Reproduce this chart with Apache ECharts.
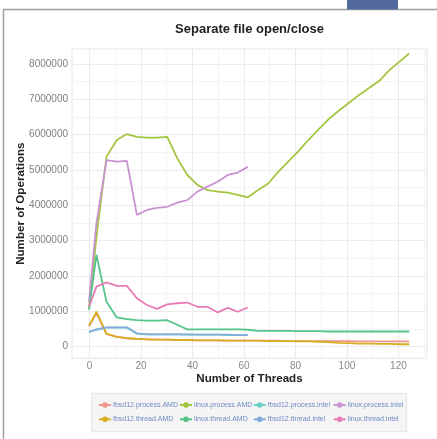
<!DOCTYPE html>
<html>
<head>
<meta charset="utf-8">
<script src="https://cdn.jsdelivr.net/npm/echarts@6/dist/echarts.min.js"></script>
<style>
  html, body { margin: 0; padding: 0; background: #fff; }
  #chart { width: 437px; height: 439px; }
</style>
</head>
<body>
<div id="chart"></div>
<script>
// Thread positions on the x scale for each platform
const threadsAMD = [-0.2, 2.7, 6.6, 10.6, 14.5, 18.4, 22.3, 26.2, 30.2, 34.1, 38.0, 41.9, 45.8,
  49.8, 53.7, 57.6, 61.5, 65.4, 69.4, 73.3, 77.2, 81.1, 85.0, 89.0, 92.9, 96.8, 100.7, 104.6,
  108.6, 112.5, 116.4, 120.3, 124.2];
const threadsIntel = [-0.2, 2.7, 6.6, 10.6, 14.5, 18.4, 22.3, 26.2, 30.2, 34.1, 38.0, 41.9, 45.8,
  49.8, 53.7, 57.6, 61.5];

// Operations completed (AMD runs)
const fbsd12ProcessAMD = [580000, 950000, 360000, 280000, 240000, 220000, 210000, 200000, 200000,
  190000, 190000, 180000, 180000, 180000, 170000, 170000, 170000, 170000, 170000, 170000, 160000,
  160000, 160000, 160000, 160000, 160000, 160000, 150000, 150000, 150000, 150000, 150000, 150000];
const linuxProcessAMD = [1100000, 3100000, 5380000, 5850000, 6020000, 5940000, 5920000, 5920000,
  5940000, 5330000, 4860000, 4580000, 4430000, 4390000, 4360000, 4300000, 4230000, 4430000, 4620000,
  4950000, 5240000, 5530000, 5850000, 6150000, 6440000, 6680000, 6900000, 7120000, 7320000, 7520000,
  7820000, 8060000, 8300000];
const fbsd12ThreadAMD = [590000, 990000, 360000, 280000, 240000, 220000, 210000, 200000, 200000,
  190000, 190000, 180000, 180000, 180000, 170000, 170000, 170000, 170000, 160000, 160000, 160000,
  150000, 150000, 140000, 130000, 110000, 100000, 90000, 90000, 80000, 80000, 70000, 70000];
const linuxThreadAMD = [1040000, 2600000, 1270000, 830000, 780000, 750000, 740000, 740000, 750000,
  620000, 490000, 490000, 490000, 490000, 490000, 490000, 480000, 450000, 450000, 450000, 450000,
  440000, 440000, 440000, 430000, 430000, 430000, 430000, 430000, 430000, 430000, 430000, 430000];

// Operations completed (Intel runs)
const fbsd12ProcessIntel = [410000, 480000, 540000, 540000, 540000, 370000, 350000, 350000, 350000,
  350000, 340000, 340000, 340000, 340000, 330000, 330000, 330000];
const linuxProcessIntel = [1270000, 3500000, 5280000, 5240000, 5260000, 3730000, 3870000, 3930000,
  3960000, 4080000, 4150000, 4390000, 4530000, 4670000, 4860000, 4930000, 5090000];
const fbsd12ThreadIntel = [420000, 490000, 550000, 550000, 550000, 380000, 350000, 350000, 350000,
  350000, 350000, 340000, 340000, 340000, 340000, 330000, 330000];
const linuxThreadIntel = [1130000, 1700000, 1820000, 1720000, 1720000, 1370000, 1180000, 1070000,
  1200000, 1230000, 1250000, 1130000, 1130000, 970000, 1100000, 990000, 1110000];

// Axis tick labels
const xTicks = [0, 20, 40, 60, 80, 100, 120];
const xMinorTicks = [10, 30, 50, 70, 90, 110, 130];
const yTicks = [0, 1000000, 2000000, 3000000, 4000000, 5000000, 6000000, 7000000, 8000000];
const yMinorTicks = [500000, 1500000, 2500000, 3500000, 4500000, 5500000, 6500000, 7500000];

const seriesDefs = [
  { name: 'fbsd12.process.AMD', x: threadsAMD, y: fbsd12ProcessAMD, color: '#f4958c' },
  { name: 'linux.process.AMD', x: threadsAMD, y: linuxProcessAMD, color: '#a3c640' },
  { name: 'fbsd12.process.intel', x: threadsIntel, y: fbsd12ProcessIntel, color: '#6ccfc6' },
  { name: 'linux.process.intel', x: threadsIntel, y: linuxProcessIntel, color: '#c993d2' },
  { name: 'fbsd12.thread.AMD', x: threadsAMD, y: fbsd12ThreadAMD, color: '#d6ae22' },
  { name: 'linux.thread.AMD', x: threadsAMD, y: linuxThreadAMD, color: '#55c48b' },
  { name: 'fbsd12.thread.intel', x: threadsIntel, y: fbsd12ThreadIntel, color: '#84abdd' },
  { name: 'linux.thread.intel', x: threadsIntel, y: linuxThreadIntel, color: '#e87cb6' }
];

const FONT = 'Liberation Sans, Arial, Helvetica, sans-serif';
const gridBox = { left: 72, top: 49, right: 10, bottom: 80.7 };
const xRange = { min: -6.8, max: 131.1 };
const yRange = { min: -328000, max: 8426000 };

const chart = echarts.init(document.getElementById('chart'), null, { renderer: 'canvas' });

const legendCols = [
  { left: 98, names: ['fbsd12.process.AMD', 'fbsd12.thread.AMD'] },
  { left: 179, names: ['linux.process.AMD', 'linux.thread.AMD'] },
  { left: 252.7, names: ['fbsd12.process.intel', 'fbsd12.thread.intel'] },
  { left: 332.7, names: ['linux.process.intel', 'linux.thread.intel'] }
];

const plainNumber = v => String(Math.round(v));

const option = {
  backgroundColor: '#ffffff',
  animation: false,
  textStyle: { fontFamily: FONT },
  grid: Object.assign({
    show: true, borderColor: '#e4e4e4', borderWidth: 1, backgroundColor: '#fff',
    containLabel: false, outerBoundsMode: 'none'
  }, gridBox),
  xAxis: [
    {
      type: 'value', min: xRange.min, max: xRange.max,
      name: 'Number of Threads', nameLocation: 'middle', nameGap: 14, nameMoveOverlap: false,
      nameTextStyle: { fontFamily: FONT, fontSize: 11.6, fontWeight: 'bold', color: '#222' },
      axisLine: { show: false },
      axisTick: { show: false, customValues: xTicks },
      axisLabel: { customValues: xTicks, formatter: plainNumber, color: '#8a8a8a', fontSize: 10, margin: 3, fontFamily: FONT },
      splitLine: { show: true, lineStyle: { color: '#ebebeb', width: 1 } }
    },
    {
      type: 'value', min: xRange.min, max: xRange.max, position: 'bottom',
      axisLine: { show: false },
      axisTick: { show: false, customValues: xMinorTicks },
      axisLabel: { show: false, customValues: xMinorTicks },
      splitLine: { show: true, lineStyle: { color: '#f4f4f4', width: 1 } }
    }
  ],
  yAxis: [
    {
      type: 'value', min: yRange.min, max: yRange.max,
      name: 'Number of Operations', nameLocation: 'middle', nameGap: 45, nameRotate: 90,
      nameMoveOverlap: false,
      nameTextStyle: { fontFamily: FONT, fontSize: 11.6, fontWeight: 'bold', color: '#222' },
      axisLine: { show: false },
      axisTick: { show: false, customValues: yTicks },
      axisLabel: { customValues: yTicks, formatter: plainNumber, color: '#7f7f7f', fontSize: 10, margin: 4, fontFamily: FONT },
      splitLine: { show: true, lineStyle: { color: '#ebebeb', width: 1 } }
    },
    {
      type: 'value', min: yRange.min, max: yRange.max, position: 'left',
      axisLine: { show: false },
      axisTick: { show: false, customValues: yMinorTicks },
      axisLabel: { show: false, customValues: yMinorTicks },
      splitLine: { show: true, lineStyle: { color: '#f4f4f4', width: 1 } }
    }
  ],
  legend: legendCols.map(c => ({
    orient: 'vertical', left: c.left, top: 401.5, padding: 0,
    itemWidth: 12, itemHeight: 7, itemGap: 7.3,
    data: c.names,
    textStyle: { fontFamily: FONT, fontSize: 7, color: '#6f89c2', padding: [0, 0, 0, -3] }
  })),
  graphic: [
    { type: 'rect', z: -1, shape: { x: 91.7, y: 393.3, width: 315, height: 38.4 },
      style: { fill: '#f5f5f5', stroke: '#e3e3e3', lineWidth: 1 } },
    { type: 'line', shape: { x1: 3.5, y1: 9.5, x2: 3.5, y2: 439 },
      style: { stroke: '#a0a0a0', lineWidth: 1.5 } },
    { type: 'line', shape: { x1: 3, y1: 9.5, x2: 437, y2: 9.5 },
      style: { stroke: '#a0a0a0', lineWidth: 1.5 } },
    { type: 'rect', shape: { x: 347, y: 0, width: 51, height: 9.5 },
      style: { fill: '#526a9b' } },
    { type: 'text', x: 249.5, y: 29.3,
      style: { text: 'Separate file open/close', font: 'bold 13px ' + FONT, fill: '#222',
        textAlign: 'center', textVerticalAlign: 'middle' } }
  ],
  series: seriesDefs.map(s => ({
    name: s.name, type: 'line', xAxisIndex: 0, yAxisIndex: 0,
    data: s.x.map((t, i) => [t, s.y[i]]),
    symbol: 'circle', symbolSize: 5, showSymbol: false,
    lineStyle: { width: 1.8, color: s.color },
    itemStyle: { color: s.color },
    emphasis: { disabled: true }
  }))
};

chart.setOption(option);
</script>
</body>
</html>
